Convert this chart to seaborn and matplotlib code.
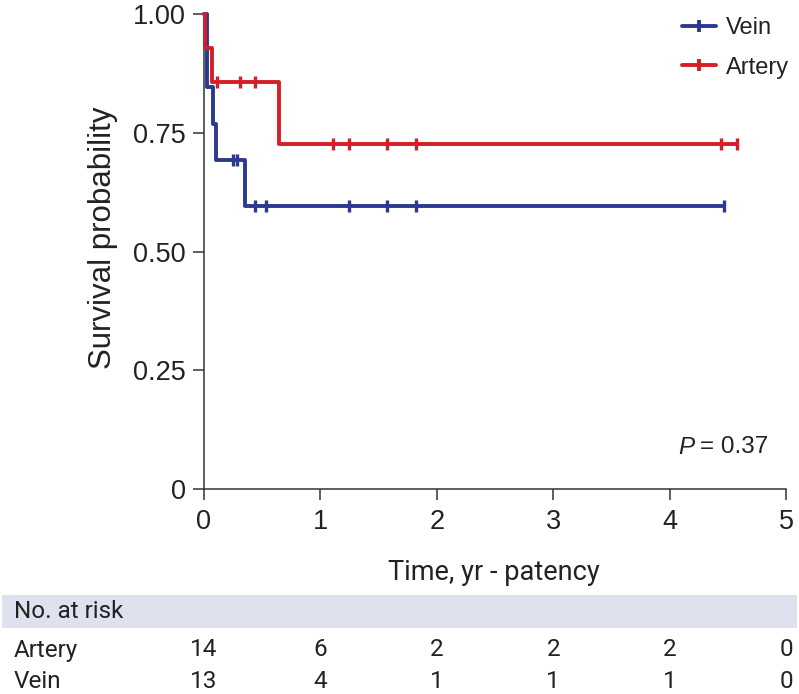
import numpy as np
import pandas as pd
import matplotlib
matplotlib.use("Agg")
import matplotlib.pyplot as plt
import matplotlib.transforms as mtransforms
from matplotlib.lines import Line2D
from matplotlib.patches import Rectangle
import seaborn as sns

# Kaplan-Meier steps
vein_times = [0.0, 0.028, 0.075, 0.103, 0.355]
vein_surv = [1.0, 0.846, 0.769, 0.692, 0.595]
vein_end = 4.47
vein_censor = [0.245, 0.283, 0.438, 0.53, 1.246, 1.572, 1.819, 4.47]

artery_times = [0.0, 0.006, 0.069, 0.647]
artery_surv = [1.0, 0.929, 0.857, 0.727]
artery_end = 4.576
artery_censor = [0.114, 0.307, 0.44, 1.111, 1.246, 1.572, 1.819, 4.444, 4.576]

# number at risk table
risk_times = [0, 1, 2, 3, 4, 5]
risk_artery = [14, 6, 2, 2, 2, 0]
risk_vein = [13, 4, 1, 1, 1, 0]

x_ticks = [0, 1, 2, 3, 4, 5]
y_ticks = [0, 0.25, 0.5, 0.75, 1.0]
y_ticklabels = ["0", "0.25", "0.50", "0.75", "1.00"]

p_text = "= 0.37"

VEIN_COLOR = "#2b3990"
ARTERY_COLOR = "#d41f26"
TEXT_COLOR = "#222222"

sns.set_style("ticks")
plt.rcParams["font.family"] = ["Liberation Sans", "DejaVu Sans"]

W, H = 799, 694
fig = plt.figure(figsize=(W / 100, H / 100), dpi=100)


def px(x, y):
    # pixel position -> figure fraction
    return x / W, 1 - y / H


ax = fig.add_axes([204 / W, (H - 489.3) / H, 582 / W, 475.3 / H])


def step_frame(times, surv, end):
    return pd.DataFrame({"time": list(times) + [end],
                         "surv": list(surv) + [surv[-1]]})


def surv_at(times, surv, t):
    idx = np.searchsorted(times, t, side="right") - 1
    return surv[idx]


LW = 2.8
groups = [
    ("Vein", vein_times, vein_surv, vein_end, vein_censor, VEIN_COLOR),
    ("Artery", artery_times, artery_surv, artery_end, artery_censor, ARTERY_COLOR),
]

for name, times, surv, end, cens, col in groups:
    df = step_frame(times, surv, end)
    sns.lineplot(data=df, x="time", y="surv", ax=ax, color=col,
                 drawstyle="steps-post", linewidth=LW, estimator=None,
                 sort=False, clip_on=False, zorder=3)
    cy = [surv_at(times, surv, t) for t in cens]
    ax.plot(cens, cy, linestyle="none", marker="|", markersize=9,
            markeredgewidth=2.4, color=col, clip_on=False, zorder=4)

ax.set_xlim(0, 5)
ax.set_ylim(0, 1)
ax.set_xticks(x_ticks)
ax.set_xticklabels([str(t) for t in x_ticks], fontsize=19.5, color=TEXT_COLOR)
ax.set_yticks(y_ticks)
ax.set_yticklabels(y_ticklabels, fontsize=19.5, color=TEXT_COLOR)
ax.tick_params(axis="both", length=8, width=1.1, color="#333333")
ax.tick_params(axis="x", pad=6)
ax.tick_params(axis="y", pad=5)
ax.set_xlabel("")
ax.set_ylabel("Survival probability", fontsize=22.5, color=TEXT_COLOR)
ax.yaxis.set_label_coords(-0.147, 0.53)
sns.despine(ax=ax)
for s in ["left", "bottom"]:
    ax.spines[s].set_linewidth(1.1)
    ax.spines[s].set_color("#333333")

# legend
handles = [Line2D([], [], color=c, linewidth=LW, marker="|", markersize=9,
                  markeredgewidth=LW) for c in [VEIN_COLOR, ARTERY_COLOR]]
fig.legend(handles, ["Vein", "Artery"], loc="upper left",
           bbox_to_anchor=px(682, 17), frameon=False, fontsize=17,
           handlelength=1.45, handletextpad=0.4, labelspacing=0.75,
           borderpad=0, borderaxespad=0, labelcolor=TEXT_COLOR)

# P value
fig.text(*px(694, 447), "P", fontsize=17.5, style="italic", color=TEXT_COLOR,
         ha="right", va="center")
fig.text(*px(700, 447), p_text, fontsize=17.5, color=TEXT_COLOR,
         ha="left", va="center")

# x label and risk table
tfont = ["Roboto", "DejaVu Sans"]
fig.text(*px(494, 573), "Time, yr - patency", fontsize=19.5, family=tfont,
         color=TEXT_COLOR, ha="center", va="center")

fig.patches.append(Rectangle(px(2, 628), 795 / W, 33 / H, transform=fig.transFigure,
                             facecolor="#dfe1ee", edgecolor="none", zorder=0))
fig.text(*px(14, 611), "No. at risk", fontsize=17.5, family=tfont,
         color=TEXT_COLOR, ha="left", va="center")

blend = mtransforms.blended_transform_factory(ax.transData, fig.transFigure)
for label, counts, yrow in [("Artery", risk_artery, 650), ("Vein", risk_vein, 681)]:
    fig.text(*px(14, yrow), label, fontsize=17.5, family=tfont,
             color=TEXT_COLOR, ha="left", va="center")
    for t, n in zip(risk_times, counts):
        fig.text(t, 1 - yrow / H, str(n), transform=blend, fontsize=17.5,
                 family=tfont, color=TEXT_COLOR, ha="center", va="center")

fig.savefig("out.png", dpi=100)
